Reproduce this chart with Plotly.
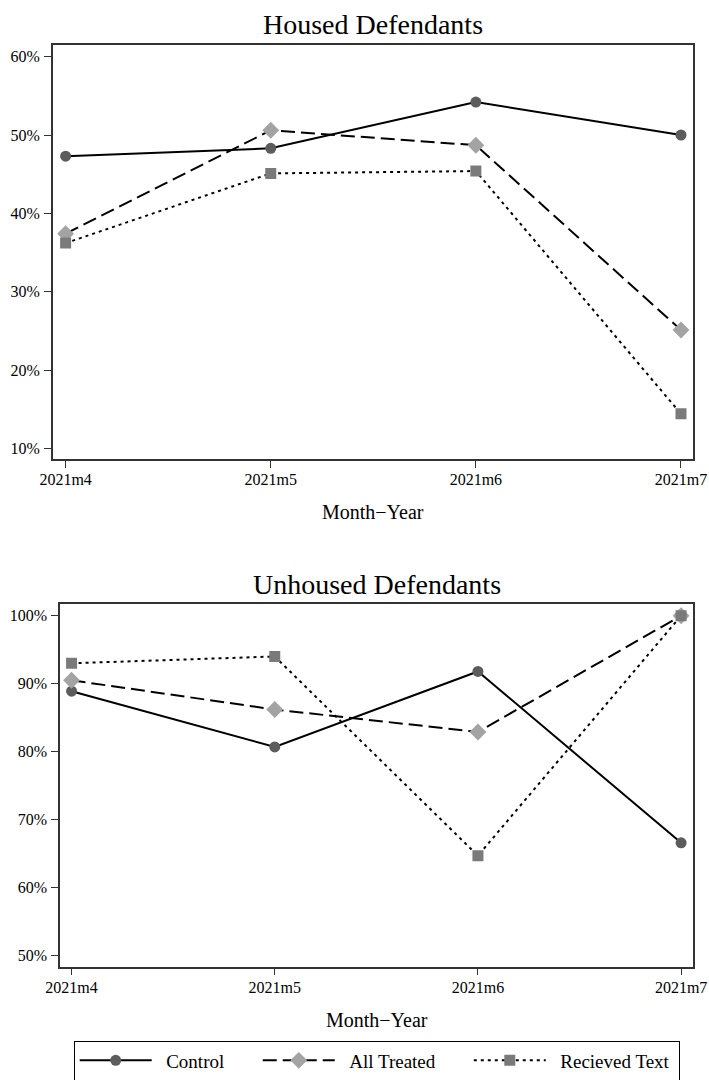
import plotly.graph_objects as go

months = ["2021m4", "2021m5", "2021m6", "2021m7"]
series_names = ["Control", "All Treated", "Recieved Text"]

housed_control = [47.3, 48.3, 54.2, 50.0]
housed_treated = [37.4, 50.6, 48.7, 25.1]
housed_text = [36.2, 45.1, 45.4, 14.4]

unhoused_control = [88.9, 80.7, 91.8, 66.6]
unhoused_treated = [90.5, 86.2, 82.9, 100.0]
unhoused_text = [93.0, 94.0, 64.7, 100.0]

housed_yticks = [10, 20, 30, 40, 50, 60]
unhoused_yticks = [50, 60, 70, 80, 90, 100]

panel_titles = ["Housed Defendants", "Unhoused Defendants"]
x_title = "Month\u2212Year"

FONT = "Liberation Serif"
styles = [
    dict(dash="solid", symbol="circle", color="#5c5c5c", size=11),
    dict(dash="14px,6px", symbol="diamond", color="#a3a3a3", size=13),
    dict(dash="3px,4px", symbol="square", color="#7a7a7a", size=11),
]

NB = "\u00a0"
def legend_label(i, name):
    # pad legend labels so entries spread like the reference legend
    trail = NB * 6 if i < len(series_names) - 1 else NB
    return NB * 2 + name + trail

fig = go.Figure()

panels = [
    ("x", "y", [housed_control, housed_treated, housed_text]),
    ("x2", "y2", [unhoused_control, unhoused_treated, unhoused_text]),
]
for pi, (xa, ya, data) in enumerate(panels):
    for si, vals in enumerate(data):
        st = styles[si]
        fig.add_trace(go.Scatter(
            x=months, y=vals, xaxis=xa, yaxis=ya,
            mode="lines+markers", name=legend_label(si, series_names[si]),
            showlegend=(pi == 1), legendgroup=series_names[si],
            line=dict(color="black", width=2, dash=st["dash"]),
            marker=dict(symbol=st["symbol"], color=st["color"], size=st["size"],
                        line=dict(width=0)),
        ))

W, H = 709, 1080
def px(v): return v / W
def py(v): return 1 - v / H

axis_common = dict(
    showgrid=False, zeroline=False, showline=True, mirror=True,
    linecolor="#333333", linewidth=1.5, ticks="outside", ticklen=7,
    tickwidth=1.2, tickcolor="#333333", automargin=False,
    tickfont=dict(family=FONT, size=16, color="black"),
)

def pct(ticks):
    return [f"{v}%" for v in ticks]

fig.update_layout(
    width=W, height=H, margin=dict(l=0, r=0, t=0, b=0, autoexpand=False),
    paper_bgcolor="white", plot_bgcolor="white",
    font=dict(family=FONT, color="black"),
    xaxis=dict(axis_common, domain=[px(52.7), px(693.3)], anchor="y",
               type="category", range=[-0.063, 3.06], ticklabelstandoff=-2),
    yaxis=dict(axis_common, domain=[py(459.3), py(44.7)], anchor="x",
               range=[8.6, 61.53], tickmode="array", tickvals=housed_yticks,
               ticktext=pct(housed_yticks), ticklabelstandoff=1),
    xaxis2=dict(axis_common, domain=[px(60), px(693.3)], anchor="y2",
                type="category", range=[-0.057, 3.06], ticklabelstandoff=-2),
    yaxis2=dict(axis_common, domain=[py(966.7), py(604)], anchor="x2",
                range=[48.38, 101.72], tickmode="array", tickvals=unhoused_yticks,
                ticktext=pct(unhoused_yticks), ticklabelstandoff=1),
    legend=dict(orientation="h", x=px(376.7), xanchor="center",
                y=py(1040.5), yanchor="top",
                bordercolor="black", borderwidth=1, bgcolor="white",
                font=dict(family=FONT, size=19, color="black"),
                itemwidth=72, traceorder="normal"),
    showlegend=True,
)

ann = [
    (panel_titles[0], px(373), py(24), 28),
    (panel_titles[1], px(376.7), py(584), 28),
    (x_title, px(373), py(512), 20),
    (x_title, px(376.7), py(1020), 20),
]
for text, x, y, size in ann:
    fig.add_annotation(text=text, x=x, y=y, xref="paper", yref="paper",
                       xanchor="center", yanchor="middle", showarrow=False,
                       font=dict(family=FONT, size=size, color="black"))

fig.write_html("out.html",
               config={"displayModeBar": False},
               post_script="document.body.style.margin='0';"
                           "document.body.style.overflow='hidden';")
